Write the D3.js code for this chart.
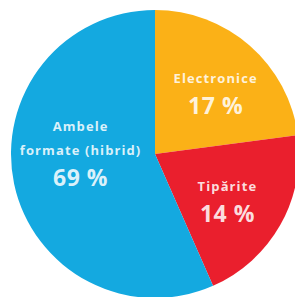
<!DOCTYPE html>
<html>
<head>
<meta charset="utf-8">
<script src="https://cdn.jsdelivr.net/npm/d3@7"></script>
<style>
  body { margin: 0; background: #fff; }
  .pie-label { font-family: "Open Sans", sans-serif; text-anchor: middle; dominant-baseline: central; }
</style>
</head>
<body>
<div id="pie"></div>
<script>
// categories and values
var categories = ["Electronice", "Tipărite", "Ambele formate (hibrid)"];
var percentLabels = [17, 14, 69];
// slice sizes as drawn in the picture (angles do not follow the labels)
var sliceShares = [22.9, 20.5, 56.6];
var labelLines = [["Electronice"], ["Tipărite"], ["Ambele", "formate (hibrid)"]];

var svgWidth = 295;
var svgHeight = 297;
var radius = 144;
var center = { x: 155, y: 154 };

var colors = d3.scaleOrdinal()
  .domain(categories)
  .range(["#fbb117", "#ea1f2d", "#14a9e0"]);

var svg = d3.select("#pie")
  .append("svg")
  .attr("width", svgWidth)
  .attr("height", svgHeight);

var chartGroup = svg.append("g")
  .attr("transform", `translate(${center.x}, ${center.y})`);

var pie = d3.pie()
  .sort(null)
  .value(function(d) { return d.share; });

var rows = categories.map(function(c, i) {
  return { name: c, share: sliceShares[i], pct: percentLabels[i], lines: labelLines[i] };
});

var arc = d3.arc().innerRadius(0).outerRadius(radius);

chartGroup.selectAll("path")
  .data(pie(rows))
  .enter()
  .append("path")
  .attr("d", arc)
  .attr("fill", d => colors(d.data.name));

// where the percentage sits: fraction of radius and angle nudge (degrees)
var labelFrac = [0.54, 0.65, 0.54];
var labelTurn = [10, 10, -5];

var labels = chartGroup.selectAll("g.lbl")
  .data(pie(rows))
  .enter()
  .append("g")
  .attr("class", "lbl")
  .attr("transform", function(d, i) {
    var r = radius * labelFrac[i];
    var a = (d.startAngle + d.endAngle) / 2 + labelTurn[i] * Math.PI / 180;
    return `translate(${r * Math.sin(a)}, ${-r * Math.cos(a)})`;
  });

labels.each(function(d) {
  var g = d3.select(this);
  var n = d.data.lines.length;
  d.data.lines.forEach(function(line, j) {
    g.append("text")
      .attr("class", "pie-label")
      .attr("y", -27 - (n - 1 - j) * 24)
      .attr("fill", "#fff")
      .attr("fill-opacity", 0.85)
      .style("font-size", "13px")
      .style("font-weight", 700)
      .style("letter-spacing", "1.1px")
      .text(line);
  });
  g.append("text")
    .attr("class", "pie-label")
    .attr("y", 0)
    .attr("fill", "#fff")
    .attr("fill-opacity", 0.85)
    .style("font-size", "23px")
    .style("font-weight", 700)
    .style("letter-spacing", "0.5px")
    .text(d.data.pct + " %");
});
</script>
</body>
</html>
